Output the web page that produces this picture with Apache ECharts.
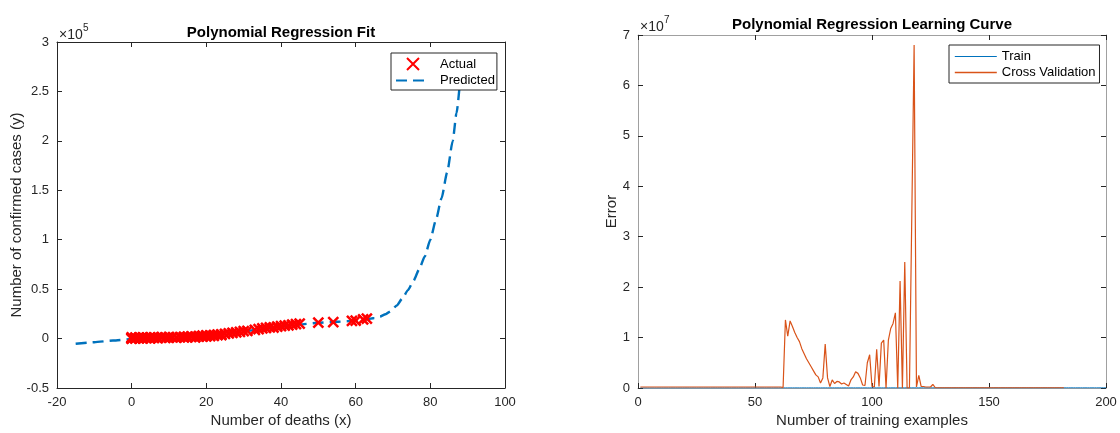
<!DOCTYPE html>
<html><head><meta charset="utf-8">
<script src="https://cdn.jsdelivr.net/npm/echarts@6/dist/echarts.min.js"></script>
<style>html,body{margin:0;padding:0;background:#fff}#c{width:1120px;height:433px}</style>
</head><body><div id="c"></div><script>
// ---- Left chart: Polynomial Regression Fit ----
const actualDeaths = [0,0,0,0,0,0,1,1,1,1,2,2,2,3,3,3,4,4,5,5,5,6,6,7,7,8,8,9,9,10,10,11,12,12,13,14,14,15,15,16,16,17,17,18,18,19,19,19,20,20,20,21,21,22,22,23,23,24,24,25,26,27,28,29,30,31,33,34,35,36,37,38,39,40,41,42,43,44,45,50,54,59,60,62,63];
const actualCases  = [0,100,300,500,800,1100,200,600,900,300,400,700,1000,300,800,1200,500,900,600,1100,300,700,1200,900,500,1000,1400,800,1200,1000,1500,1100,1300,900,1500,1200,1700,1400,2000,1600,2200,1800,1300,2000,2500,1900,2400,2900,2200,2700,3200,2500,3100,2800,3600,3400,4000,4200,3600,4800,5200,5800,6200,6800,7600,7900,8800,9600,10200,10800,11300,11200,12100,12600,13000,13400,14200,14600,15200,16200,16600,18000,18200,19400,20100];
const predDeaths = [-15,-10,-5,0,5,10,15,20,25,30,35,40,45,50,55,58,61,63,65,66.5,68,69.5,71,72.5,74,75.5,77,78.5,80,81.5,83,84.5,86,87,88.3];
const predCases  = [-5300,-3700,-2000,-400,800,1700,2700,3800,5500,7500,9600,11800,14300,16000,17000,17600,18500,19400,20800,22300,24600,28000,33500,40500,49000,58500,70000,83000,100000,120000,142000,168000,200000,228000,275000];
const fitXTicks = {min:-20, max:100, interval:20};
const fitYTicks = {min:-50000, max:300000, interval:50000, scale:1e5};

// ---- Right chart: Learning curve (values in units of 1e7) ----
const trainError = [
0,0,0,0,0,0.0002,0.0003,0.0003,0.0004,0.0005,
0.0005,0.0006,0.0006,0.0007,0.0007,0.0008,0.0008,0.0008,0.0009,0.0009,
0.001,0.001,0.001,0.001,0.0011,0.0011,0.0011,0.0012,0.0012,0.0012,
0.0012,0.0013,0.0013,0.0013,0.0013,0.0014,0.0014,0.0014,0.0014,0.0015,
0.0015,0.0015,0.0015,0.0015,0.0016,0.0016,0.0016,0.0016,0.0016,0.0017,
0.0017,0.0017,0.0017,0.0017,0.0018,0.0018,0.0018,0.0018,0.0018,0.0018,
0.0019,0.0019,0.0019,0.0019,0.0019,0.0019,0.002,0.002,0.002,0.002,
0.002,0.002,0.002,0.0021,0.0021,0.0021,0.0021,0.0021,0.0021,0.0021,
0.0022,0.0022,0.0022,0.0022,0.0022,0.0022,0.0022,0.0022,0.0023,0.0023,
0.0023,0.0023,0.0023,0.0023,0.0023,0.0023,0.0024,0.0024,0.0024,0.0024,
0.0024,0.0024,0.0024,0.0024,0.0024,0.0025,0.0025,0.0025,0.0025,0.0025,
0.0025,0.0025,0.0025,0.0025,0.0026,0.0026,0.0026,0.0026,0.0026,0.0026,
0.0026,0.0026,0.0026,0.0026,0.0027,0.0027,0.0027,0.0027,0.0027,0.0027,
0.0027,0.0027,0.0027,0.0027,0.0027,0.0028,0.0028,0.0028,0.0028,0.0028,
0.0028,0.0028,0.0028,0.0028,0.0028,0.0028,0.0029,0.0029,0.0029,0.0029,
0.0029,0.0029,0.0029,0.0029,0.0029,0.0029,0.0029,0.0029,0.003,0.003,
0.003,0.003,0.003,0.003,0.003,0.003,0.003,0.003,0.003,0.003,
0.003,0.003,0.003,0.003,0.003,0.003,0.003,0.003,0.003,0.003,
0.003,0.003,0.003,0.003,0.003,0.003,0.003,0.003,0.003,0.003,
0.003,0.003,0.003,0.003,0.003,0.003,0.003,0.003,0.003,0.003];
const cvError = [
0.02,0.02,0.02,0.02,0.02,0.02,0.02,0.02,0.02,0.02,
0.02,0.02,0.02,0.02,0.02,0.02,0.02,0.02,0.02,0.02,
0.02,0.02,0.02,0.02,0.02,0.02,0.02,0.02,0.02,0.02,
0.02,0.02,0.02,0.02,0.02,0.02,0.02,0.02,0.02,0.02,
0.02,0.02,0.02,0.02,0.02,0.02,0.02,0.02,0.02,0.02,
0.02,0.02,0.02,0.02,0.02,0.02,0.02,0.02,0.02,0.02,
0.02,0.01,1.35,1.03,1.33,1.22,1.10,1.00,0.92,0.78,
0.68,0.58,0.50,0.42,0.34,0.26,0.22,0.10,0.20,0.87,
0.20,0.03,0.16,0.09,0.13,0.12,0.08,0.10,0.07,0.04,
0.16,0.22,0.32,0.29,0.20,0.06,0.05,0.50,0.66,0.03,
0.02,0.77,0.03,0.89,0.95,0.00,0.95,1.18,1.28,1.49,
0.00,2.12,0.00,2.50,0.00,0.00,3.40,6.80,0.02,0.25,
0.03,0.03,0.02,0.02,0.02,0.07,0.01,0.005,0.005,0.005,
0.005,0.005,0.005,0.005,0.005,0.005,0.005,0.005,0.005,0.005,
0.005,0.005,0.005,0.005,0.005,0.005,0.005,0.005,0.005,0.005,
0.005,0.005,0.005,0.005,0.005,0.005,0.005,0.005,0.005,0.005,
0.005,0.005,0.005,0.005,0.005,0.005,0.005,0.005,0.005,0.005,
0.005,0.005,0.005,0.005,0.005,0.005,0.005,0.005,0.005,0.005,
0.005,0.005];
const lcXTicks = {min:0, max:200, interval:50};
const lcYTicks = {min:0, max:7, interval:1};

const FONT = "'Liberation Sans', Arial, Helvetica, sans-serif";
const TXT = '#262626';
const chart = echarts.init(document.getElementById('c'), null, {renderer:'canvas'});

function axisPair(gridIndex, dir, t, lineColor, opts) {
  const base = {
    gridIndex, type:'value', min:t.min, max:t.max, interval:t.interval,
    axisLine:{show:true, onZero:false, lineStyle:{color:lineColor, width:1}},
    axisTick:{show:true, inside:true, length:5, lineStyle:{color:TXT, width:1}},
    splitLine:{show:false}
  };
  const main = Object.assign({}, base, {
    position: dir==='x' ? 'bottom' : 'left',
    nameMoveOverlap:false,
    axisLabel:{show:true, fontFamily:FONT, fontSize:13, color:TXT, margin:8,
      formatter: t.scale ? (v => String(Math.round(v/t.scale*10)/10)) : (v => String(v))}
  }, opts||{});
  const second = Object.assign({}, base, {
    position: dir==='x' ? 'top' : 'right',
    axisLabel:{show:false}
  });
  return [main, second];
}

const fitX = axisPair(0,'x',fitXTicks,TXT,{name:'Number of deaths (x)', nameLocation:'middle', nameGap:25,
  nameTextStyle:{fontFamily:FONT, fontSize:15, color:TXT}});
const fitY = axisPair(0,'y',fitYTicks,TXT,{name:'Number of confirmed cases (y)', nameLocation:'middle', nameGap:33,
  nameTextStyle:{fontFamily:FONT, fontSize:15, color:TXT}});
const lcX = axisPair(1,'x',lcXTicks,'#a0a0a0',{name:'Number of training examples', nameLocation:'middle', nameGap:25,
  nameTextStyle:{fontFamily:FONT, fontSize:15, color:TXT}});
const lcY = axisPair(1,'y',lcYTicks,'#a0a0a0',{name:'Error', nameLocation:'middle', nameGap:19,
  nameTextStyle:{fontFamily:FONT, fontSize:15, color:TXT}});

const xMark = 'path://M0,0L10,10M10,0L0,10';
const noSym = {opacity:0};

chart.setOption({
  animation:false,
  backgroundColor:'#fff',
  title:[
    {text:'Polynomial Regression Fit', left:281, top:25, textAlign:'center', padding:0,
     textStyle:{fontFamily:FONT, fontSize:15, fontWeight:'bold', color:'#000'}},
    {text:'Polynomial Regression Learning Curve', left:872, top:17, textAlign:'center', padding:0,
     textStyle:{fontFamily:FONT, fontSize:15, fontWeight:'bold', color:'#000'}}
  ],
  grid:[
    {left:57, top:42, width:448, height:350},
    {left:638, top:35, width:468, height:357}
  ],
  xAxis:[fitX[0], fitX[1], lcX[0], lcX[1]],
  yAxis:[fitY[0], fitY[1], lcY[0], lcY[1]],
  legend:[
    {show:true, data:[{name:'Actual'}, {name:'Predicted', itemStyle:noSym}], left:391, top:53, orient:'vertical',
     padding:[4,2,3,4], itemGap:3, itemWidth:34, itemHeight:12,
     borderColor:TXT, borderWidth:1, backgroundColor:'#fff', borderRadius:0,
     textStyle:{fontFamily:FONT, fontSize:13, color:'#000', padding:[0,0,0,5]}},
    {show:true, data:[{name:'Train', itemStyle:noSym, lineStyle:{width:1}}, {name:'Cross Validation', itemStyle:noSym, lineStyle:{width:1.6}}], left:949, top:45, orient:'vertical',
     padding:[5,4,4,5], itemGap:3, itemWidth:42, itemHeight:12,
     borderColor:TXT, borderWidth:1, backgroundColor:'#fff', borderRadius:0,
     textStyle:{fontFamily:FONT, fontSize:13, color:'#000'}}
  ],
  graphic:[
    {type:'text', left:59, top:28, style:{text:'×10', font:'14px '+FONT, fill:TXT}},
    {type:'text', left:83, top:23, style:{text:'5', font:'10px '+FONT, fill:TXT}},
    {type:'text', left:640, top:20, style:{text:'×10', font:'14px '+FONT, fill:TXT}},
    {type:'text', left:664, top:15, style:{text:'7', font:'10px '+FONT, fill:TXT}}
  ],
  series:[
    {name:'Predicted', type:'line', xAxisIndex:0, yAxisIndex:0,
     data: predDeaths.map((d,i)=>[d, predCases[i]]),
     symbol:'none', showSymbol:false, smooth:0.2, smoothMonotone:'x',
     lineStyle:{color:'#0072BD', width:2.4, type:[11,6]}, itemStyle:{color:'#0072BD'}, z:2},
    {name:'Actual', type:'scatter', xAxisIndex:0, yAxisIndex:0,
     data: actualDeaths.map((d,i)=>[d, actualCases[i]]),
     symbol:xMark, symbolSize:10,
     itemStyle:{color:'rgba(255,0,0,0)', borderColor:'#FF0000', borderWidth:2.5, opacity:1}, z:3},
    {name:'Train', type:'line', xAxisIndex:2, yAxisIndex:2,
     data: trainError.map((v,i)=>[i+1, v]),
     symbol:'none', showSymbol:false, lineStyle:{color:'#0072BD', width:1}, itemStyle:{color:'#0072BD'}},
    {name:'Cross Validation', type:'line', xAxisIndex:2, yAxisIndex:2,
     data: cvError.map((v,i)=>[i+1, v]),
     symbol:'none', showSymbol:false, lineStyle:{color:'#D95319', width:1.2}, itemStyle:{color:'#D95319'}}
  ]
});
</script></body></html>
